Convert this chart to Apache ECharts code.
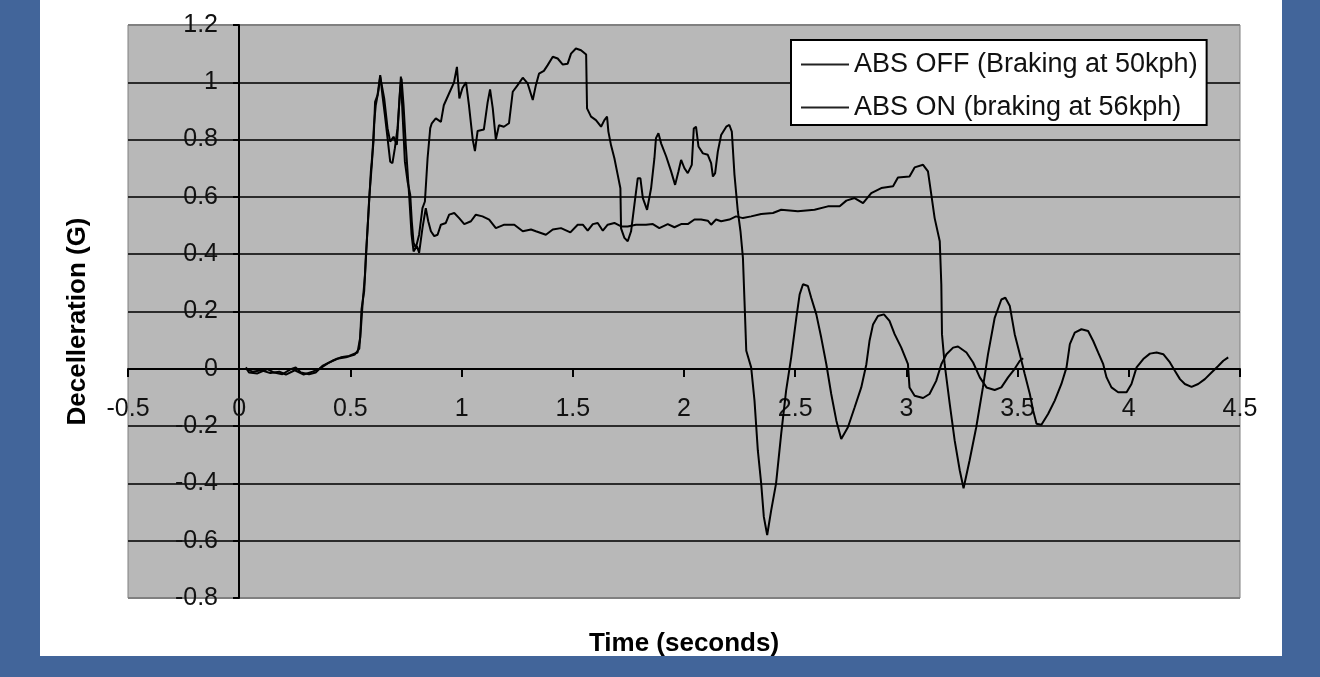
<!DOCTYPE html>
<html>
<head>
<meta charset="utf-8">
<script src="https://cdn.jsdelivr.net/npm/echarts@6/dist/echarts.min.js"></script>
<style>
html,body{margin:0;padding:0;background:#42659a;width:1320px;height:677px;overflow:hidden;}
#chart{position:absolute;left:40px;top:0;width:1242px;height:656px;background:#ffffff;}
</style>
</head>
<body>
<div id="chart"></div>
<script>
// ---- data (time in seconds, deceleration in G) ----
const seriesNames = ['ABS OFF (Braking at 50kph)', 'ABS ON (braking at 56kph)'];

const absOffTime = [0.03,0.044,0.082,0.127,0.157,0.194,0.232,0.254,0.277,0.314,0.344,0.374,0.419,0.457,0.494,0.532,0.544,0.55,0.562,0.569,0.58,0.592,0.604,0.611,0.622,0.634,0.644,0.655,0.667,0.679,0.689,0.70,0.712,0.724,0.73,0.739,0.749,0.764,0.775,0.784,0.799,0.809,0.824,0.839,0.85,0.862,0.877,0.892,0.907,0.929,0.944,0.967,0.989,1.012,1.042,1.064,1.094,1.124,1.154,1.192,1.237,1.275,1.312,1.334,1.379,1.41,1.447,1.489,1.522,1.545,1.567,1.59,1.612,1.635,1.657,1.687,1.717,1.747,1.784,1.829,1.86,1.889,1.927,1.957,1.987,2.017,2.047,2.077,2.107,2.122,2.144,2.167,2.204,2.234,2.265,2.302,2.347,2.40,2.437,2.512,2.587,2.647,2.70,2.73,2.767,2.805,2.842,2.887,2.94,2.962,3.014,3.037,3.075,3.097,3.112,3.127,3.15,3.157,3.16,3.172,3.195,3.217,3.24,3.257,3.284,3.314,3.344,3.367,3.397,3.427,3.445,3.465,3.487,3.51,3.532,3.555,3.57,3.585,3.607,3.637,3.667,3.697,3.72,3.735,3.757,3.787,3.817,3.84,3.862,3.885,3.9,3.922,3.952,3.99,4.012,4.035,4.065,4.095,4.125,4.155,4.185,4.207,4.23,4.252,4.282,4.312,4.342,4.372,4.402,4.425,4.447];
const absOffG = [0.005,-0.013,-0.016,-0.001,-0.013,-0.019,-0.001,0.005,-0.013,-0.019,-0.013,0.01,0.028,0.04,0.045,0.057,0.109,0.208,0.271,0.387,0.526,0.689,0.793,0.932,0.955,1.025,0.955,0.886,0.805,0.723,0.718,0.77,0.84,0.978,1.013,0.92,0.782,0.608,0.468,0.41,0.428,0.405,0.491,0.561,0.515,0.48,0.463,0.468,0.503,0.509,0.538,0.544,0.526,0.505,0.515,0.538,0.532,0.521,0.491,0.503,0.503,0.48,0.486,0.48,0.468,0.486,0.491,0.476,0.503,0.503,0.482,0.505,0.509,0.482,0.503,0.509,0.497,0.497,0.503,0.503,0.505,0.491,0.505,0.494,0.505,0.505,0.521,0.521,0.517,0.503,0.521,0.515,0.521,0.532,0.526,0.532,0.54,0.544,0.555,0.55,0.555,0.567,0.567,0.587,0.596,0.578,0.613,0.631,0.637,0.668,0.671,0.703,0.712,0.689,0.608,0.526,0.445,0.295,0.121,0.016,-0.123,-0.25,-0.355,-0.417,-0.32,-0.204,-0.065,0.051,0.178,0.242,0.248,0.219,0.121,0.051,-0.018,-0.088,-0.146,-0.192,-0.195,-0.158,-0.111,-0.053,0.005,0.086,0.126,0.138,0.132,0.097,0.057,0.016,-0.03,-0.065,-0.082,-0.082,-0.053,0.005,0.034,0.053,0.057,0.051,0.022,-0.007,-0.036,-0.053,-0.063,-0.053,-0.036,-0.013,0.01,0.028,0.04];

const absOnTime = [0.03,0.06,0.1,0.14,0.18,0.21,0.25,0.29,0.33,0.36,0.40,0.44,0.48,0.52,0.54,0.548,0.556,0.566,0.575,0.585,0.597,0.606,0.614,0.626,0.634,0.652,0.667,0.679,0.694,0.709,0.72,0.727,0.734,0.745,0.757,0.769,0.776,0.784,0.794,0.809,0.824,0.835,0.847,0.859,0.866,0.884,0.907,0.92,0.943,0.966,0.979,0.99,1.004,1.02,1.033,1.05,1.06,1.072,1.10,1.117,1.128,1.14,1.154,1.168,1.19,1.213,1.23,1.252,1.275,1.297,1.32,1.334,1.348,1.37,1.387,1.41,1.432,1.455,1.477,1.492,1.514,1.537,1.56,1.564,1.582,1.604,1.627,1.642,1.654,1.66,1.672,1.687,1.702,1.714,1.717,1.732,1.747,1.762,1.777,1.792,1.804,1.815,1.834,1.852,1.867,1.874,1.885,1.897,1.92,1.942,1.96,1.975,1.987,2.002,2.017,2.035,2.044,2.054,2.065,2.085,2.107,2.122,2.13,2.14,2.152,2.167,2.19,2.204,2.215,2.227,2.242,2.254,2.265,2.272,2.28,2.302,2.317,2.332,2.347,2.359,2.374,2.392,2.414,2.437,2.459,2.482,2.505,2.52,2.535,2.557,2.572,2.595,2.617,2.64,2.662,2.685,2.707,2.737,2.767,2.797,2.82,2.834,2.85,2.872,2.899,2.924,2.947,2.977,3.007,3.014,3.037,3.075,3.104,3.134,3.157,3.18,3.21,3.232,3.27,3.30,3.33,3.36,3.397,3.427,3.457,3.487,3.51,3.525];
const absOnG = [0.0,-0.01,-0.005,-0.015,-0.01,-0.02,-0.005,-0.02,-0.01,0.0,0.02,0.035,0.04,0.05,0.07,0.15,0.24,0.33,0.46,0.6,0.72,0.85,0.92,0.97,1.02,0.944,0.84,0.793,0.81,0.782,0.932,1.02,0.897,0.723,0.654,0.608,0.515,0.44,0.422,0.468,0.561,0.584,0.735,0.84,0.857,0.874,0.862,0.92,0.96,1.0,1.054,0.944,0.98,1.0,0.92,0.80,0.76,0.83,0.835,0.93,0.975,0.91,0.80,0.85,0.845,0.857,0.967,0.99,1.016,0.996,0.938,0.99,1.03,1.04,1.06,1.089,1.083,1.062,1.065,1.10,1.118,1.112,1.097,0.909,0.88,0.868,0.845,0.868,0.88,0.828,0.78,0.735,0.677,0.63,0.49,0.457,0.445,0.48,0.573,0.665,0.665,0.596,0.555,0.63,0.735,0.805,0.822,0.787,0.741,0.689,0.642,0.689,0.729,0.70,0.683,0.712,0.839,0.845,0.776,0.752,0.747,0.718,0.671,0.683,0.758,0.816,0.845,0.851,0.828,0.677,0.55,0.48,0.387,0.237,0.063,0.005,-0.111,-0.285,-0.40,-0.517,-0.58,-0.494,-0.40,-0.227,-0.077,0.04,0.178,0.26,0.295,0.289,0.248,0.19,0.109,0.016,-0.088,-0.181,-0.245,-0.204,-0.135,-0.065,0.016,0.097,0.155,0.184,0.19,0.167,0.121,0.074,0.016,-0.065,-0.094,-0.102,-0.088,-0.042,0.016,0.051,0.074,0.078,0.057,0.022,-0.03,-0.065,-0.074,-0.065,-0.03,0.0,0.028,0.037];

// axis ranges / tick labels
const xMin = -0.5, xMax = 4.5, xStep = 0.5;
const yMin = -0.8, yMax = 1.2, yStep = 0.2;
const xTitle = 'Time (seconds)';
const yTitle = 'Decelleration (G)';

function zip(a, b) { return a.map((v, i) => [v, b[i]]); }
function fmt(v) { return String(+(+v).toFixed(1)); }

const chart = echarts.init(document.getElementById('chart'), null, {renderer: 'canvas'});
const lblFont = 'Liberation Sans, Arial, sans-serif';
const gridLineColors = ['#808080','#2b2b2b','#2b2b2b','#2b2b2b','#2b2b2b','#2b2b2b','#2b2b2b','#2b2b2b','#2b2b2b','#2b2b2b','#808080'];

// grid geometry (container px)
const gLeft = 88, gRight = 42, gTop = 25, gBottom = 58;
const W = 1242, H = 656;
const plotW = W - gLeft - gRight, plotH = H - gTop - gBottom;
// move the axes so they cross at the data origin (0, 0)
const xAxisOffset = -Math.round(plotH * (0 - yMin) / (yMax - yMin));
const yAxisOffset = -Math.round(plotW * (0 - xMin) / (xMax - xMin));

chart.setOption({
  animation: false,
  backgroundColor: '#ffffff',
  grid: {
    left: gLeft, right: gRight, top: gTop, bottom: gBottom,
    containLabel: false, outerBoundsMode: 'none',
    show: true, backgroundColor: '#b8b8b8', borderColor: '#808080', borderWidth: 1
  },
  legend: {
    orient: 'vertical',
    left: 751, top: 40,
    padding: [11, 9, 4, 10],
    itemGap: 16,
    itemWidth: 48, itemHeight: 14,
    icon: 'path://M0,0 L48,0 L48,2 L0,2 Z',
    itemStyle: {color: '#222'},
    backgroundColor: '#ffffff',
    borderColor: '#000000', borderWidth: 2,
    textStyle: {fontFamily: lblFont, fontSize: 27, lineHeight: 27, color: '#111'},
    data: seriesNames
  },
  xAxis: {
    type: 'value', min: xMin, max: xMax, interval: xStep,
    position: 'bottom', offset: xAxisOffset,
    axisLine: {show: true, onZero: false, lineStyle: {color: '#000', width: 2}},
    axisTick: {show: true, length: 8, lineStyle: {color: '#000', width: 2}},
    axisLabel: {margin: 28, fontFamily: lblFont, fontSize: 25, color: '#111', formatter: fmt},
    splitLine: {show: false},
    name: xTitle, nameLocation: 'middle', nameGap: 262,
    nameTextStyle: {fontFamily: lblFont, fontSize: 26, fontWeight: 'bold', color: '#000'}
  },
  yAxis: {
    type: 'value', min: yMin, max: yMax, interval: yStep,
    position: 'left', offset: yAxisOffset,
    axisLine: {show: true, onZero: false, lineStyle: {color: '#000', width: 2}},
    axisTick: {show: true, length: 6, lineStyle: {color: '#000', width: 2}},
    axisLabel: {margin: 21, fontFamily: lblFont, fontSize: 25, color: '#111', formatter: fmt},
    splitLine: {show: true, lineStyle: {color: gridLineColors, width: 2}},
    name: yTitle, nameLocation: 'middle', nameGap: 148,
    nameTextStyle: {fontFamily: lblFont, fontSize: 26, fontWeight: 'bold', color: '#000', padding: [0, 20, 0, 0]}
  },
  series: [
    {
      name: seriesNames[0], type: 'line', data: zip(absOffTime, absOffG),
      showSymbol: false, symbol: 'none', smooth: false,
      lineStyle: {color: '#000', width: 2}, itemStyle: {color: '#000'}
    },
    {
      name: seriesNames[1], type: 'line', data: zip(absOnTime, absOnG),
      showSymbol: false, symbol: 'none', smooth: false,
      lineStyle: {color: '#000', width: 2}, itemStyle: {color: '#000'}
    }
  ]
});
</script>
</body>
</html>
